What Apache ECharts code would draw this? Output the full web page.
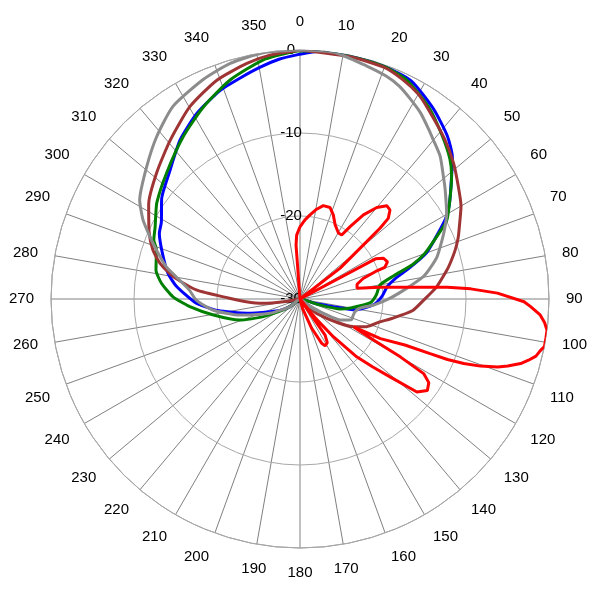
<!DOCTYPE html>
<html>
<head>
<meta charset="utf-8">
<script src="https://cdn.jsdelivr.net/npm/echarts@6/dist/echarts.min.js"></script>
<style>html,body{margin:0;padding:0;background:#fff}#c{width:600px;height:600px}</style>
</head>
<body>
<div id="c"></div>
<script>
// tick labels
const angleLabels = ['0','10','20','30','40','50','60','70','80','90','100','110','120','130','140','150','160','170','180','190','200','210','220','230','240','250','260','270','280','290','300','310','320','330','340','350'];
const radiusLabels = ['-30','-20','-10','0'];

// series: angle (deg, clockwise from top) and level (dB)
const blueAngle = [0,5,12,20,27,35,42,47,51,57,61,66,70,74,78,82,88,94,99,101,103,106,112,228,232,240,247,255,262,268,276,281,288,295,299,306,314,323,331,339,345,350,355,360];
const blueDb    = [-0.5,0,0,-0.2,-0.5,-2.0,-3.5,-4.9,-6.5,-8.5,-9.9,-12.2,-13.8,-16.2,-18.3,-19.4,-20.1,-21.0,-22.5,-23.2,-25.9,-28,-30,-30,-28.5,-27.3,-26.1,-23.4,-20,-17.4,-15,-13.8,-12.6,-11.3,-10.9,-9.4,-8.1,-6.0,-4.4,-3.1,-2.4,-1.7,-1.0,-0.5];

const greenAngle = [0,5,12,20,26,34,41,47,51,57,62,65.5,70,73,76,80,87,93,100,104,107,112,225,232,236.6,244.3,250.7,259.5,266,271,276.5,281.4,289,292,296.5,299,304,313.3,324.3,333.3,342.3,351.3,358.4,360];
const greenDb    = [-0.1,0,0,-0.2,-0.65,-2.2,-3.9,-5.3,-6.5,-8.5,-10,-11.9,-14,-15.8,-18.3,-20.2,-20.8,-21.5,-23.8,-25,-27.9,-30,-30,-28.8,-27.6,-25.1,-22.3,-19.4,-16.7,-14.7,-13.2,-12.3,-11.7,-11.0,-10.5,-10.1,-9.2,-7.9,-5.9,-4.1,-2.3,-0.85,-0.2,-0.1];

const brownAngle = [0,12,20,25,30,34,42,48.5,54.6,60,66,69,72.5,76.6,79,85,90.5,96,102,106,112.5,117.5,122,130.6,138,145,255,260,263.3,267,270.6,275,280,284.3,288.5,294,302,311.3,320.7,330.2,339.2,347.3,353,360];
const brownDb    = [0,-0.2,-0.3,-0.8,-1.5,-2.4,-4.0,-5.3,-6.6,-7.6,-9.0,-9.6,-10.4,-11.4,-12,-13.5,-15.1,-16.4,-18.7,-20,-21.3,-22.8,-24.6,-27.3,-29,-30,-30,-28.5,-25.5,-23.5,-21.5,-17.45,-14.5,-12.6,-11.3,-10.1,-8.5,-7.0,-5.3,-3.3,-1.8,-0.9,-0.4,0];

const greyAngle = [0,8,16,21,25,29,33,37,40,44.5,50,53,60,64,68,72.8,77,79.7,84.3,89.6,94.7,98.8,103,108,112,117.7,121.5,128,135,228,232,244.5,255,262.8,269.4,274.7,280.3,283.6,288.9,292.6,296.8,301.7,310.8,318.6,326.6,336.2,343.5,351.5,360];
const greyDb    = [0,0,-0.8,-1.2,-1.7,-2.5,-3.3,-4.3,-5.0,-5.9,-7.4,-8.1,-9.6,-10.6,-11.6,-12.7,-14,-14.9,-17.1,-19.2,-21.1,-22.7,-23.2,-23.3,-23.3,-24.55,-26.7,-28.5,-30,-30,-28.5,-26,-22.5,-19.4,-17.5,-16.6,-14.8,-13.4,-11.7,-10.4,-8.8,-7.3,-5.6,-3.9,-2.2,-1.1,-0.4,0,0];

const redAngle = [0,3.6,6.8,10.5,14,18.2,21.6,25.3,30.2,33.1,34.7,37,40,42.9,45.3,47.6,48.5,49.3,52.5,56,58,62,64,67,69.5,70,72,75.5,79.3,81.7,84.4,85.4,86.6,88.3,90.7,91.9,93.8,95.5,97.2,99,101,102.2,103.6,105,106.3,107.9,109,110.4,111.5,112.3,112.8,113.7,116.2,117.5,119.2,120,121.1,123,125.7,128.5,130.8,133,135.5,138.5,141,142.5,145.2,148,151.8,153.9,158.2,165,175,350,355.8,357,360];
const redDb    = [-21.3,-20.45,-19.8,-19,-18.4,-18.4,-19.1,-20.1,-20.8,-20.8,-19.4,-17.3,-15.6,-14.65,-14.75,-15.6,-17.1,-19.4,-23.9,-30,-30,-19.7,-18.8,-18.55,-19.1,-20.3,-22,-22.9,-23,-20.2,-15.4,-12.2,-9.4,-6.2,-3.0,-2.2,-1.0,-0.4,0,0,0,-0.4,-0.75,-1.5,-2.3,-3.7,-4.8,-6.8,-8.8,-10.8,-13,-16.2,-19.2,-22.7,-19.8,-16,-12.6,-11.5,-11.1,-12,-15.6,-18,-20.2,-23.9,-27,-30,-24.7,-23.8,-23.6,-24.05,-26.2,-28.8,-30,-30,-23.5,-22.3,-21.3];

function pairs(angles, db) { return angles.map((a, i) => [db[i], a]); }

const chart = echarts.init(document.getElementById('c'), null, {renderer: 'canvas'});
const font = "'Liberation Sans', Arial, sans-serif";

function lineSeries(name, angles, db, color, smooth) {
  return {
    name: name, type: 'line', coordinateSystem: 'polar',
    data: pairs(angles, db), showSymbol: false, symbol: 'none',
    lineStyle: {color: color, width: 3}, itemStyle: {color: color},
    smooth: smooth, animation: false
  };
}

chart.setOption({
  animation: false,
  backgroundColor: '#fff',
  polar: {center: [300, 299], radius: 249},
  angleAxis: {
    type: 'value', min: 0, max: 360, interval: 10, startAngle: 90, clockwise: true,
    axisLine: {show: true, lineStyle: {color: '#9a9a9a', width: 1}},
    axisTick: {show: false},
    splitLine: {show: true, lineStyle: {color: '#808080', width: 1}},
    axisLabel: {
      margin: 17, color: '#000', fontSize: 15, fontFamily: font,
      padding: [0, 0, 4, 0],
      formatter: v => angleLabels[Math.round(v / 10)] || ''
    }
  },
  radiusAxis: {
    type: 'value', min: -30, max: 0, interval: 10,
    axisLine: {show: false}, axisTick: {show: false},
    splitLine: {show: true, lineStyle: {color: '#a8a8a8', width: 1}},
    axisLabel: {
      margin: 9, align: 'center', verticalAlign: 'middle',
      color: '#000', fontSize: 15, fontFamily: font,
      formatter: v => radiusLabels[Math.round((v + 30) / 10)]
    },
    z: 1
  },
  series: [
    lineSeries('blue', blueAngle, blueDb, '#0000ff', 0.2),
    lineSeries('green', greenAngle, greenDb, '#008000', 0.2),
    lineSeries('brown', brownAngle, brownDb, '#9e3434', 0.2),
    lineSeries('grey', greyAngle, greyDb, '#8c8c8c', 0.2),
    lineSeries('red', redAngle, redDb, '#ff0000', false)
  ]
});
</script>
</body>
</html>
